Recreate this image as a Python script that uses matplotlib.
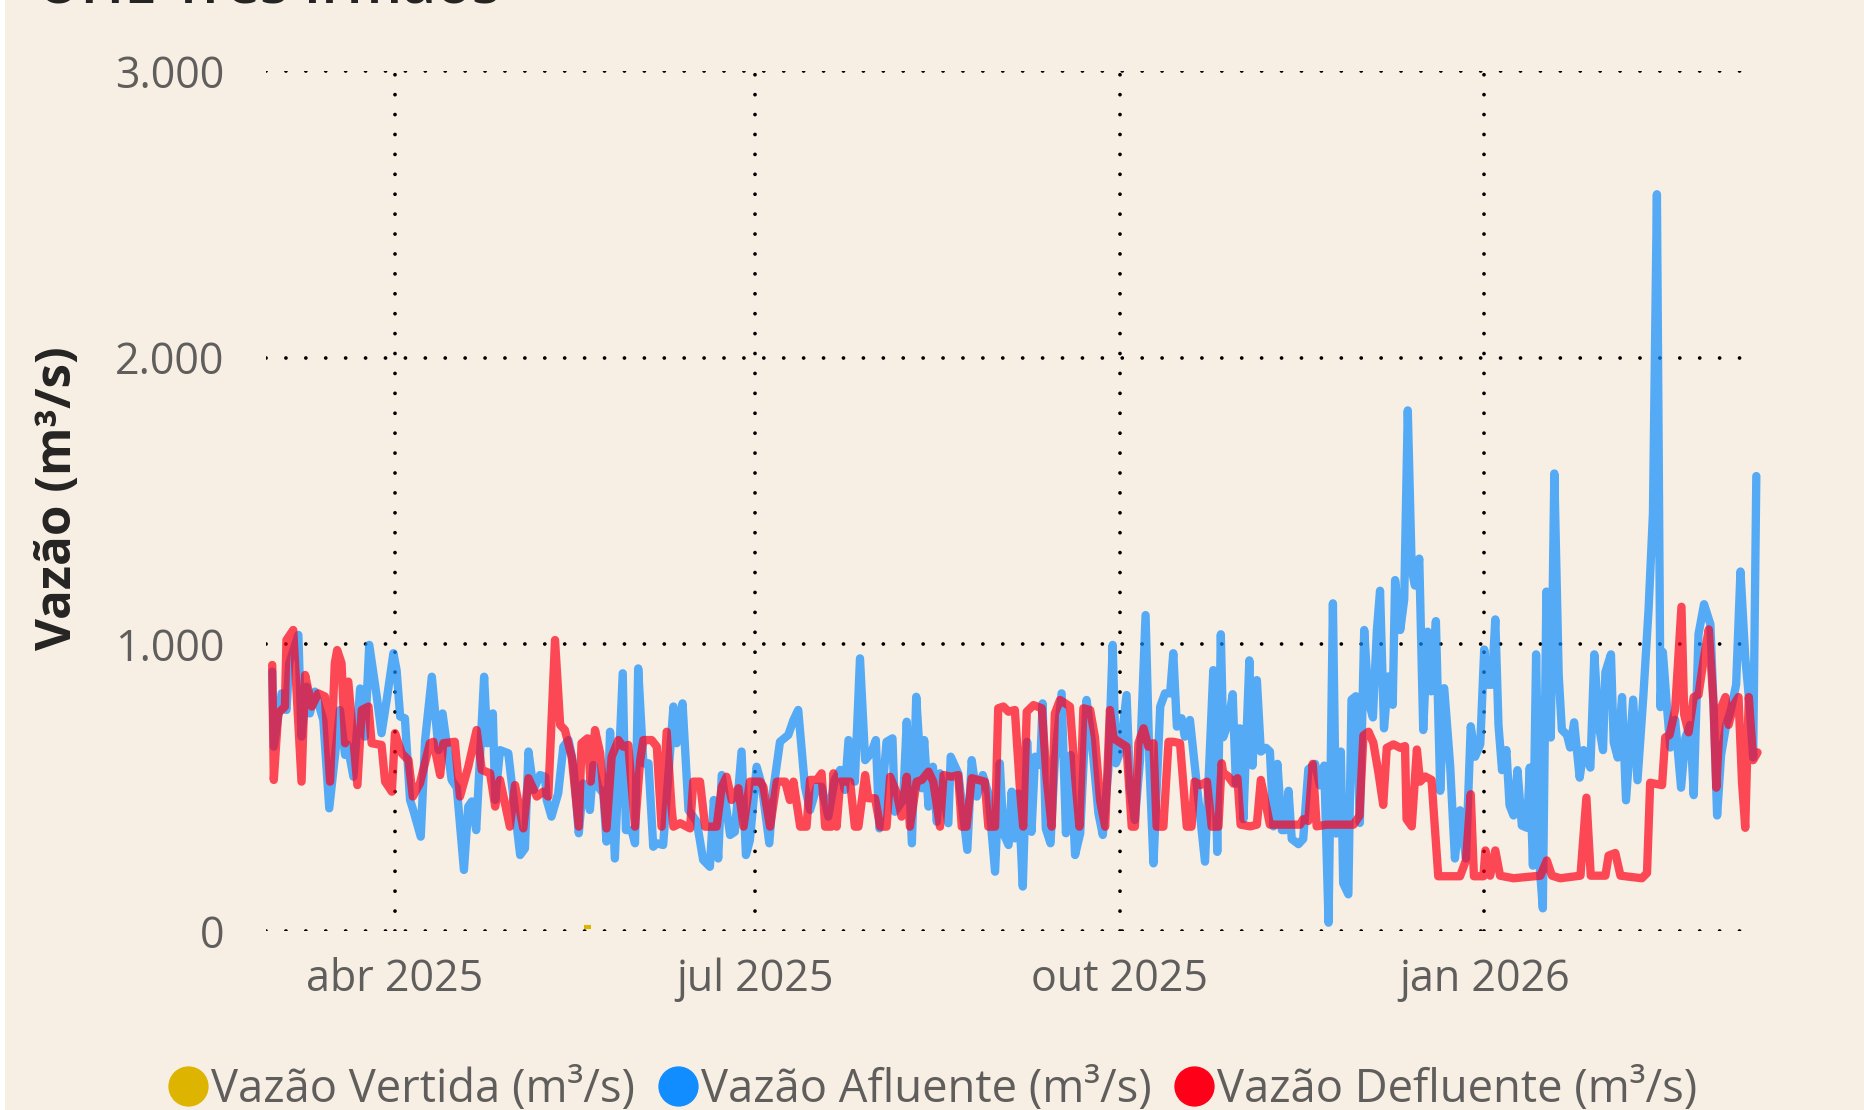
import matplotlib
matplotlib.use('Agg')
import matplotlib.pyplot as plt
from matplotlib.lines import Line2D
from matplotlib.patches import Rectangle
import pandas as pd

# ---------------- data ----------------
inicio = pd.Timestamp('2025-03-01')

# Vazão Afluente (m³/s): days since 2025-03-01 and values
afl_dia = [0, 0.4, 2.4, 3.6, 4.3, 6.6, 7.4, 8.7, 9.5, 10.8, 12.9, 14.4, 17.1, 18.4, 19.0, 20.5,
           22.2, 23.4, 24.5, 26.4, 27.6, 28.9, 30.6, 31.4, 32.3, 33.5, 34.8, 35.6, 37.5, 38.6,
           40.3, 42.0, 43.0, 45.3, 46.6, 48.4, 49.5, 50.4, 51.5, 53.5, 54.3, 55.7, 56.3,
           57.5, 59.6, 62.6, 63.8, 64.7, 66.0, 67.6, 68.9, 69.3, 70.5, 72.2, 73.5, 74.8, 76.0,
           77.4, 78.5, 80.2, 81.1, 82.3, 83.6, 84.4, 85.3, 86.5, 88.5, 89.3, 90.7, 91.6, 92.4,
           93.7, 95.0, 96.2, 97.1, 98.7, 101.3, 102.1, 103.6, 105.1, 107.2, 108.8, 110.5, 111.5,
           112.6, 113.5, 115.6, 116.8, 118.5, 119.6,
           120.6, 122.3, 123.6, 125.5, 126.5, 128.2, 130.3, 131.6, 132.8, 134.5, 135.8, 137.5,
           138.7, 140.4, 142.0, 143.4, 144.6, 145.5, 147.1, 148.4, 149.7, 151.2, 152.4, 153.3,
           155.1, 156.6, 157.2, 159.3, 160.2, 161.5, 162.6, 164.0, 164.6, 165.7, 166.8, 167.8,
           168.6, 170.7, 171.3, 173.2, 175.5, 176.6, 177.9, 179.4,
           180.8, 182.5, 183.7, 184.6, 185.9, 186.7, 187.5, 188.4, 189.5, 190.6, 191.7, 192.6,
           193.9, 194.5, 195.3, 196.5, 197.6, 199.3, 200.4, 201.6, 202.7, 204.0, 205.6, 206.9,
           208.6, 209.7, 211.1, 212.2, 213.0, 214.0, 215.7, 216.6, 217.8, 219.1, 220.5, 221.5,
           222.5, 224.2, 225.4, 226.7, 227.5, 228.4, 229.6, 230.4, 231.7, 233.4, 235.5, 236.3,
           237.6, 238.6, 239.5,
           240.1, 241.4, 242.5, 243.3, 244.3, 245.2, 246.7, 247.5, 248.6, 249.6, 250.9, 251.9,
           252.8, 253.8, 254.9, 255.7, 256.6, 257.4, 259.1, 260.3, 261.6, 263.3, 264.5, 265.6,
           266.7, 267.8, 268.6, 269.8, 270.4, 271.7, 272.5, 273.6, 274.6, 275.7, 276.8, 277.9,
           278.9, 279.7, 280.7, 281.8, 282.9, 283.5, 284.8, 285.8, 286.7, 287.7, 288.5, 289.6,
           290.6, 291.7, 292.6, 293.8, 294.9, 295.9, 297.4, 298.6, 299.9, 301.4, 302.6, 303.7,
           305.0,
           306.0, 306.9, 307.9, 308.8, 309.6, 310.5, 311.6, 312.4, 313.4, 314.4, 315.5, 316.8,
           317.5, 318.3, 319.1, 320.0, 320.8, 321.7, 322.8, 323.7, 324.8, 325.6, 326.9, 327.7,
           328.7, 330.1, 331.1, 332.8, 333.8, 334.9, 336.0, 336.6, 338.0, 338.7, 339.7, 340.8,
           341.8, 343.6, 344.7, 346.2, 347.5, 348.6, 349.6, 350.5, 351.1, 352.1, 353.0, 354.2,
           355.7, 356.8, 358.0, 358.9, 360.1, 361.5, 363.1, 363.9, 364.8, 365.8, 367.1, 368.3,
           369.6, 370.7, 371.9, 373.0, 373.9, 374.7]
afl_val = [905, 643, 829, 771, 934, 1033, 678, 852, 759, 835, 736, 428, 771, 614, 650, 538,
           846, 678, 998, 817, 690, 806, 969, 910, 748, 742, 457, 422, 329, 666,
           887, 631, 759, 527, 500, 213, 434, 452, 352, 887, 655, 759, 457,
           631, 620, 265, 288, 626, 492, 544, 538, 457, 399, 480, 643, 666, 585,
           341, 515, 422, 579, 503, 480, 312, 695, 253, 899, 352, 352, 306, 916,
           585, 585, 294, 306, 300, 783, 655, 794, 422, 381, 248, 224, 457,
           253, 544, 335, 346, 626, 265,
           317, 573, 509, 306, 492, 660, 684, 736, 771, 503, 422, 503,
           503, 399, 527, 562, 492, 666, 521, 951, 596, 620, 666, 358,
           660, 672, 416, 457, 730, 306, 817, 498, 666, 434, 573, 381,
           550, 376, 608, 550, 283, 596, 469, 544,
           480, 207, 585, 341, 300, 486, 323, 480, 155, 660, 346, 608,
           579, 794, 358, 306, 596, 829, 341, 614, 265, 341, 806, 666,
           410, 335, 562, 998, 585, 620, 823, 503, 387, 596, 1102, 573,
           236, 783, 829, 829, 969, 713, 742, 678, 736, 515, 242, 492,
           910, 276, 1035,
           676, 727, 826, 514, 707, 390, 944, 577, 875, 626, 639, 626,
           365, 583, 352, 352, 489, 321, 303, 321, 564, 583, 508, 577,
           29, 1143, 340, 626, 166, 128, 807, 819, 377, 1050, 801, 745,
           1050, 1187, 707, 888, 789, 1224, 1050, 1156, 1816, 1262, 1205, 1299,
           701, 1044, 836, 1081, 489, 847, 577, 253, 421, 253, 714, 608,
           651,
           982, 859, 859, 1087, 719, 561, 631, 438, 403, 561, 368, 360,
           570, 228, 965, 228, 79, 1184, 675, 1596, 894, 702, 684, 640,
           728, 535, 631, 570, 965, 719, 631, 903, 965, 658, 605, 816,
           456, 807, 526, 824, 1123, 1456, 2570, 781, 973, 789, 640, 737,
           500, 675, 719, 474, 1035, 1140, 1070, 789, 403, 614, 719, 772,
           859, 1254, 956, 789, 605, 1587]

# Vazão Defluente (m³/s)
def_dia = [0, 0.4, 1.5, 3.2, 3.6, 5.3, 7.4, 8.3, 10.0, 11.6, 13.3, 14.6, 15.8, 16.4, 17.5, 18.4,
           19.2, 21.5, 22.6, 24.3, 25.1, 27.6, 28.5, 30.2, 31.0, 32.7, 34.4, 35.5, 37.3, 39.8,
           40.7, 42.4, 43.2, 46.1, 47.4, 49.5, 51.6, 52.9, 55.0, 56.3,
           57.5, 60.0, 61.3, 63.4, 64.7, 66.8, 68.4, 69.7, 71.4, 72.7, 73.9, 75.6, 77.4, 78.1,
           79.6, 80.4, 81.5, 82.8, 84.4, 85.7, 87.4, 88.6, 89.9, 91.6, 92.9, 93.7, 95.8, 97.1,
           98.3, 99.6, 100.8, 101.3, 103.0, 105.5, 106.3, 108.0, 109.3, 112.2, 113.5, 114.7,
           116.0, 117.7, 119.0,
           120.6, 123.2, 124.0, 125.7, 127.4, 129.5, 130.7, 131.6, 133.3, 134.9, 135.8, 137.5,
           138.7, 139.6, 141.2, 141.7, 142.5, 143.4, 145.9, 147.1, 148.0, 149.7, 150.5, 152.2,
           153.5, 155.1, 156.0, 157.7, 158.9, 160.2, 161.0, 162.7, 164.0, 165.7, 166.9, 168.6,
           169.5, 171.5, 173.2, 174.1, 175.3, 176.6, 179.9,
           180.8, 182.5, 183.3, 184.6, 185.9, 187.5, 188.8, 189.6, 190.5, 192.2, 194.3, 195.5,
           196.8, 197.6, 198.9, 201.4, 202.7, 203.8, 204.8, 206.5, 207.7, 209.0, 210.3, 211.5,
           212.4, 215.7, 217.0, 217.8, 218.7, 220.0, 221.2, 222.5, 223.3, 225.0, 226.3, 227.5,
           229.2, 230.9, 232.1, 232.9, 234.3, 236.0, 237.2, 238.9, 239.7,
           240.1, 241.4, 242.7, 243.7, 244.5, 246.9, 248.6, 249.6, 251.9, 259.5, 260.3, 261.6,
           262.7, 263.7, 266.2, 273.0, 274.5, 275.5, 276.8, 278.0, 279.3, 280.5, 281.4, 283.1,
           284.8, 286.0, 286.4, 287.7, 289.0, 289.8, 291.1, 292.7, 294.4, 297.4, 299.9, 301.4,
           302.6, 303.4, 305.8,
           306.3, 307.5, 308.8, 310.0, 313.4, 320.2, 321.8, 323.1, 325.2, 330.3, 331.8, 332.9,
           336.6, 337.4, 339.1, 340.4, 345.8, 347.1, 347.9, 350.9, 351.7, 352.8, 354.2, 355.8,
           356.5, 357.6, 358.9, 360.1, 361.4, 362.7, 363.9, 364.6, 365.6, 366.9, 367.7, 369.0,
           370.2, 371.1, 371.9, 372.8, 373.9, 375.0]
def_val = [928, 527, 759, 783, 1015, 1050, 521, 893, 783, 829, 818, 521, 934, 980, 934, 655,
           870, 509, 771, 783, 655, 649, 521, 486, 690, 620, 596, 469, 515, 655,
           660, 544, 655, 660, 469, 573, 701, 562, 550, 434,
           527, 364, 509, 358, 533, 469, 486, 469, 1015, 719, 701, 608, 364, 655,
           672, 521, 701, 620, 358, 608, 666, 643, 649, 364, 596, 666, 666, 643,
           364, 695, 434, 364, 376, 358, 521, 521, 364, 364, 503, 538,
           457, 498, 364,
           521, 521, 503, 364, 521, 521, 457, 521, 364, 364, 527, 527,
           550, 364, 364, 550, 364, 521, 521, 364, 364, 544, 463, 463,
           364, 364, 538, 480, 399, 538, 364, 521, 527, 556, 521, 364,
           544, 538, 544, 364, 364, 533, 521,
           364, 364, 777, 783, 765, 771, 492, 364, 765, 788, 777, 538,
           364, 759, 806, 783, 538, 364, 777, 771, 678, 457, 364, 771,
           672, 643, 364, 364, 655, 707, 643, 655, 364, 364, 660, 660,
           655, 364, 364, 521, 509, 521, 364, 364, 585,
           552, 539, 514, 533, 371, 365, 371, 527, 371, 371, 390, 384,
           583, 365, 371, 371, 402, 682, 695, 657, 552, 440, 639, 651,
           639, 645, 390, 365, 633, 521, 539, 527, 191, 191, 191, 247,
           477, 191, 191,
           281, 193, 281, 193, 184, 193, 246, 193, 184, 193, 465, 193,
           193, 263, 272, 193, 184, 202, 517, 509, 675, 684, 772, 1131,
           754, 693, 816, 824, 947, 1052, 789, 500, 772, 816, 719, 789,
           816, 517, 360, 816, 596, 623]

# Vazão Vertida (m³/s)
ver_dia = [78.7, 80.5]
ver_val = [14, 14]

meses = ['2025-04-01', '2025-07-01', '2025-10-01', '2026-01-01']
meses_rot = ['abr 2025', 'jul 2025', 'out 2025', 'jan 2026']
y_ticks = [0, 1000, 2000, 3000]
y_rot = ['0', '1.000', '2.000', '3.000']
series_rot = ['Vazão Vertida (m³/s)', 'Vazão Afluente (m³/s)', 'Vazão Defluente (m³/s)']

# ---------------- styling ----------------
plt.rcParams['font.family'] = ['Open Sans', 'DejaVu Sans']
BG = '#F7EFE4'
C_VER = '#DDB400'
C_AFL = '#118DFF'
C_DEF = '#FF0019'
TXT = '#605E5C'

W, H = 1865, 1110
fig = plt.figure(figsize=(W / 100, H / 100), dpi=100, facecolor=BG)
fig.add_artist(Rectangle((0, 0), 5 / W, 1, transform=fig.transFigure,
                         facecolor='white', edgecolor='none'))

ax = fig.add_axes([266 / W, 1 - 931 / H, (1748 - 266) / W, (931 - 71) / H])
ax.set_facecolor(BG)
for s in ax.spines.values():
    s.set_visible(False)

to_dt = lambda d: inicio + pd.to_timedelta(d, unit='D')

lw = 6.0
ax.plot(to_dt(ver_dia), ver_val, color=C_VER, lw=3, solid_capstyle='butt', zorder=3)
ax.plot(to_dt(afl_dia), afl_val, color=C_AFL, alpha=0.7, lw=lw,
        solid_joinstyle='round', solid_capstyle='round', clip_on=False, zorder=4)
ax.plot(to_dt(def_dia), def_val, color=C_DEF, alpha=0.7, lw=lw,
        solid_joinstyle='round', solid_capstyle='round', clip_on=False, zorder=5)

ax.set_ylim(0, 3000)
ax.set_xlim(to_dt(-1.57), to_dt(372.6))
ax.set_yticks(y_ticks)
ax.set_yticklabels(y_rot)
ax.set_xticks(pd.to_datetime(meses))
ax.set_xticklabels(meses_rot)
ax.tick_params(axis='both', length=0, labelsize=31, labelcolor=TXT)
ax.tick_params(axis='y', pad=30)
ax.tick_params(axis='x', pad=19)
ax.grid(True, color='black', linewidth=2.7, linestyle=(0, (0.01, 5.3)),
        dash_capstyle='round', zorder=1)
ax.set_axisbelow(True)

fig.text(59 / W, 1 - 498 / H, 'Vazão (m³/s)', rotation=90, ha='center', va='center',
         fontsize=35.5, fontweight='bold', color='#252423')

fig.text(37 / W, 1 - 3 / H, 'UHE Três Irmãos', ha='left', va='baseline',
         fontsize=42, fontweight='semibold', color='#252423')

handles = [Line2D([], [], ls='none', marker='o', markersize=28, color=c)
           for c in (C_VER, C_AFL, C_DEF)]
fig.legend(handles, series_rot, ncol=3, loc='center', bbox_to_anchor=(0.5, 1 - 1090 / H),
           frameon=False, fontsize=32.7, labelcolor=TXT, handlelength=0.9,
           handletextpad=0.05, columnspacing=0.5, borderpad=0)

fig.savefig('out.png', dpi=100, facecolor=BG)
